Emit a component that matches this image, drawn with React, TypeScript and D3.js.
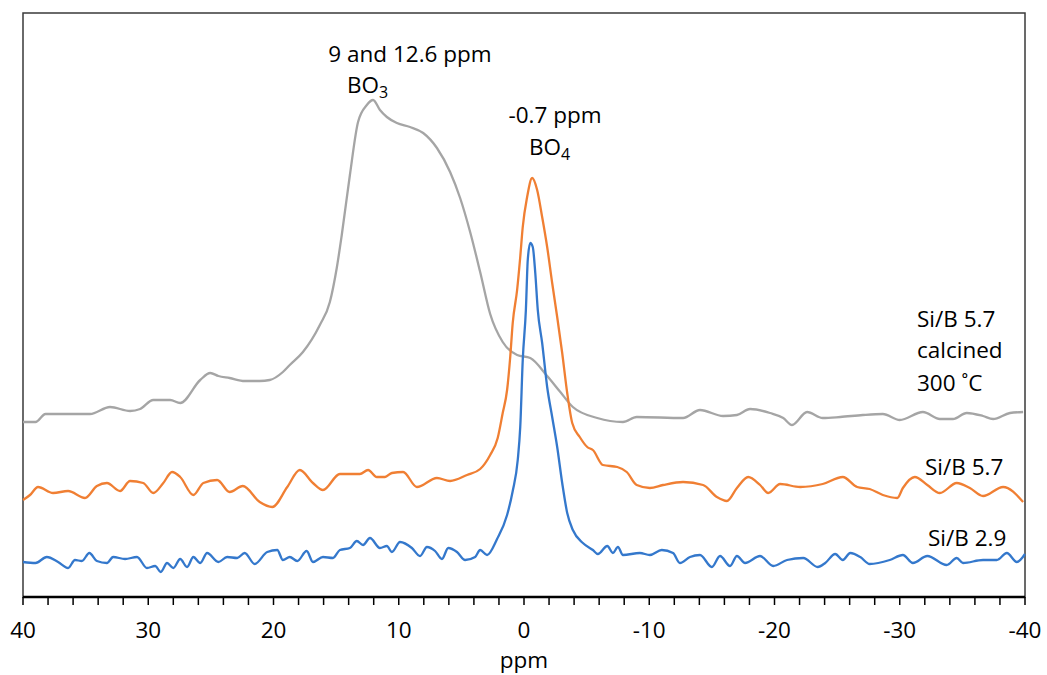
import React from "react";
import * as d3 from "d3";

// ppm (chemical shift) and intensity (a.u.)
const calcinedPpm = [40, 39.0, 38.2, 34.65, 33.05, 31.45, 30.65, 29.6, 28.25, 27.45, 25.85, 25.05, 24.4, 23.5, 22.3, 21.1, 20.3, 19.25, 18.7, 17.65, 16.3, 15.5, 14.95, 14.55, 13.9, 13.25, 12.55, 12.05, 11.5, 10.95, 10.15, 9.1, 8.05, 6.95, 5.9, 5.1, 4.3, 3.5, 2.7, 1.7, 0.55, -0.5, -1.85, -2.9, -3.9, -5.85, -7.9, -9.0, -12.7, -14.05, -15.9, -17.0, -18.05, -19.65, -20.7, -21.4, -22.6, -23.85, -25.25, -27.05, -28.65, -30.0, -31.85, -33.2, -34.25, -35.35, -36.65, -37.45, -38.8, -39.85];
const calcinedInt = [175, 175, 183, 183, 190, 186, 188, 197, 197, 194, 217, 224, 221, 219, 216, 216, 217, 225, 232, 245, 272, 295, 329, 362, 422, 475, 492, 497, 487, 480, 474, 470, 464, 449, 425, 399, 365, 325, 283, 255, 242, 239, 221, 205, 190, 179, 175, 180, 179, 187, 181, 182, 188, 184, 179, 172, 185, 179, 180, 182, 183, 177, 185, 178, 178, 184, 181, 178, 184, 185];

const sb57Ppm = [40, 39.44, 38.8, 37.6, 36.4, 35.05, 34.1, 33.3, 32.25, 31.45, 30.4, 29.6, 28.8, 28.1, 27.45, 26.4, 25.6, 24.5, 23.5, 22.45, 21.1, 20.1, 18.9, 17.9, 16.85, 16.05, 14.7, 13.1, 12.45, 11.75, 11.1, 10.55, 9.65, 8.55, 6.95, 5.9, 4.55, 3.5, 2.7, 2.1, 1.7, 1.35, 1.1, 0.9, 0.55, 0.3, 0.1, -0.25, -0.65, -1.05, -1.45, -1.85, -2.25, -2.65, -3.05, -3.45, -3.85, -4.45, -5.05, -5.5, -6.3, -7.45, -8.2, -9.0, -10.05, -11.1, -12.7, -14.3, -15.4, -16.2, -17.0, -17.9, -18.85, -19.5, -20.45, -22.05, -23.85, -25.45, -26.6, -27.6, -28.65, -29.8, -30.25, -31.2, -32.2, -33.2, -34.55, -35.6, -36.65, -38.25, -39.85];
const sb57Int = [97, 102, 110, 104, 106, 99, 111, 114, 106, 116, 114, 104, 114, 125, 120, 102, 114, 117, 105, 111, 95, 90, 110, 127, 114, 107, 123, 123, 127, 120, 120, 124, 125, 110, 119, 116, 122, 128, 142, 159, 184, 207, 240, 274, 307, 340, 370, 400, 419, 407, 380, 350, 314, 280, 244, 204, 174, 160, 150, 147, 132, 130, 125, 112, 109, 112, 115, 112, 100, 96, 109, 120, 112, 104, 113, 110, 113, 120, 110, 108, 102, 99, 109, 120, 112, 104, 114, 109, 101, 110, 95];

const sb29Ppm = [40, 39.0, 38.1, 37.2, 36.4, 35.85, 35.3, 34.7, 34.1, 33.3, 32.8, 31.85, 30.9, 30.1, 29.45, 29.0, 28.5, 28.0, 27.45, 26.9, 26.4, 25.85, 25.3, 24.4, 23.7, 22.9, 22.3, 21.5, 20.5, 19.7, 19.25, 18.7, 18.1, 17.35, 16.85, 16.05, 15.25, 14.7, 13.9, 13.35, 12.85, 12.3, 11.5, 10.95, 10.55, 9.9, 8.95, 8.3, 7.75, 7.1, 6.55, 6.05, 5.35, 4.7, 3.9, 3.5, 2.95, 2.15, 1.35, 0.9, 0.5, 0.3, 0.1, -0.15, -0.3, -0.5, -0.7, -0.9, -1.1, -1.45, -1.85, -2.25, -2.65, -3.05, -3.45, -3.9, -4.7, -5.5, -5.9, -6.65, -7.1, -7.5, -7.9, -9.25, -10.05, -11.0, -11.9, -12.45, -13.25, -14.05, -15.0, -15.65, -16.45, -17.0, -17.65, -18.85, -19.9, -21.0, -22.3, -23.45, -24.05, -24.85, -25.45, -26.05, -26.85, -27.6, -29.2, -30.25, -31.05, -32.2, -33.75, -34.55, -35.05, -36.65, -37.75, -38.55, -39.35, -40];
const sb29Int = [35, 34, 40, 35, 29, 37, 36, 44, 36, 34, 40, 38, 40, 29, 31, 25, 34, 29, 38, 30, 40, 34, 44, 35, 40, 39, 44, 33, 45, 47, 37, 40, 36, 46, 35, 40, 39, 47, 49, 56, 52, 59, 49, 51, 45, 55, 49, 41, 50, 46, 38, 49, 45, 37, 40, 47, 42, 58, 82, 106, 137, 170, 237, 287, 337, 354, 350, 324, 287, 254, 210, 180, 150, 114, 84, 67, 54, 47, 43, 51, 44, 50, 42, 44, 42, 47, 44, 34, 40, 42, 30, 41, 31, 41, 34, 41, 31, 37, 39, 30, 34, 43, 37, 44, 40, 33, 37, 42, 34, 41, 32, 39, 34, 37, 37, 44, 35, 43];

const xTickLabels = [40, 30, 20, 10, 0, -10, -20, -30, -40];
const minorTicks = d3.range(40, -40.001, -2);

const W = 1047;
const H = 675;
const left = 23;
const right = 1025;
const top = 13;
const bottom = 597;

const FONT = "'Open Sans', 'Noto Sans', sans-serif";

export default function App() {
  const x = d3.scaleLinear().domain([40, -40]).range([left, right]);
  const y = d3.scaleLinear().domain([0, 584]).range([bottom, top]);

  const mk = (p: number[], v: number[]) =>
    d3
      .line<number>()
      .x((_, i) => x(p[i]))
      .y((d) => y(d))
      .curve(d3.curveMonotoneX)(v) || "";

  const series = [
    { d: mk(calcinedPpm, calcinedInt), color: "#A5A5A5" },
    { d: mk(sb57Ppm, sb57Int), color: "#F07F33" },
    { d: mk(sb29Ppm, sb29Int), color: "#3478CC" },
  ];

  const fs = 22.5;
  const sub = 16;

  return (
    <svg
      width={W}
      height={H}
      style={{ position: "fixed", left: 0, top: 0, background: "#fff" }}
      fontFamily={FONT}
    >
      <rect x={0} y={0} width={W} height={H} fill="#fff" />
      <rect
        x={left}
        y={top}
        width={right - left}
        height={bottom - top}
        fill="none"
        stroke="#3a3a3a"
        strokeWidth={1.5}
      />
      {series.map((s, i) => (
        <path key={i} d={s.d} fill="none" stroke={s.color} strokeWidth={2.3} strokeLinejoin="round" />
      ))}
      <line x1={left} x2={right} y1={bottom} y2={bottom} stroke="#000" strokeWidth={2.5} />
      {minorTicks.map((t) => (
        <line key={t} x1={x(t)} x2={x(t)} y1={bottom} y2={bottom + 8} stroke="#000" strokeWidth={1.5} />
      ))}
      {xTickLabels.map((t) => (
        <text key={t} x={x(t)} y={638} textAnchor="middle" fontSize={fs} fill="#000">
          {t}
        </text>
      ))}
      <text x={(left + right) / 2} y={668} textAnchor="middle" fontSize={fs} fill="#000">
        ppm
      </text>

      <text x={410} y={62} textAnchor="middle" fontSize={fs} fill="#000">
        9 and 12.6 ppm
      </text>
      <text x={347} y={93} fontSize={fs} fill="#000">
        BO<tspan dy={5} fontSize={sub}>3</tspan>
      </text>
      <text x={555} y={123} textAnchor="middle" fontSize={fs} fill="#000">
        -0.7 ppm
      </text>
      <text x={529} y={155} fontSize={fs} fill="#000">
        BO<tspan dy={5} fontSize={sub}>4</tspan>
      </text>

      <text x={917} y={327} fontSize={fs} fill="#000">Si/B 5.7</text>
      <text x={917} y={358} fontSize={fs} fill="#000">calcined</text>
      <text x={917} y={391} fontSize={fs} fill="#000">300 ˚C</text>
      <text x={925} y={475} fontSize={fs} fill="#000">Si/B 5.7</text>
      <text x={928} y={546} fontSize={fs} fill="#000">Si/B 2.9</text>
    </svg>
  );
}
